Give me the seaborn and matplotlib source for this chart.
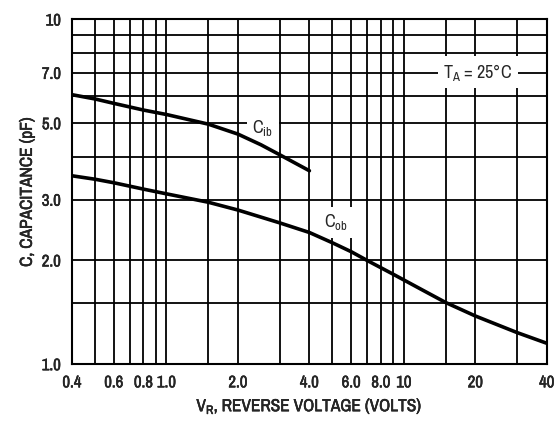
import matplotlib
matplotlib.use("Agg")
import pandas as pd
import seaborn as sns
import matplotlib.pyplot as plt
import matplotlib.patheffects as pe
from matplotlib import font_manager

# --- Datos ---
cib_v = [0.4, 0.5, 0.6, 0.8, 1.0, 1.5, 2.0, 2.5, 3.0, 4.0]
cib_c = [6.05, 5.88, 5.71, 5.46, 5.3, 4.97, 4.65, 4.33, 4.05, 3.64]

cob_v = [0.4, 0.5, 0.6, 0.8, 1.0, 1.5, 2.0, 3.0, 4.0, 5.0, 6.0, 7.0, 8.0,
         9.0, 10, 12, 15, 20, 30, 40]
cob_c = [3.52, 3.44, 3.36, 3.22, 3.12, 2.95, 2.80, 2.57, 2.41, 2.25, 2.12,
         2.0, 1.905, 1.825, 1.755, 1.64, 1.51, 1.38, 1.235, 1.15]

x_grid = [0.4, 0.5, 0.6, 0.7, 0.8, 0.9, 1.0, 1.5, 2.0, 3.0, 4.0, 5.0, 6.0,
          7.0, 8.0, 9.0, 10, 15, 20, 30, 40]
x_labels = {0.4: "0.4", 0.6: "0.6", 0.8: "0.8", 1.0: "1.0", 2.0: "2.0",
            4.0: "4.0", 6.0: "6.0", 8.0: "8.0", 10: "10", 20: "20", 40: "40"}
y_grid = [1.0, 1.5, 2.0, 3.0, 4.0, 5.0, 6.0, 7.0, 8.0, 9.0, 10]
y_labels = {1.0: "1.0", 2.0: "2.0", 3.0: "3.0", 5.0: "5.0", 7.0: "7.0", 10: "10"}

sns.set_style("white")
fonts = font_manager.fontManager.ttflist
names = {f.name for f in fonts}
# fuente estrecha si existe
narrow = [f.name for f in fonts if "Narrow" in f.name or "Condensed" in f.name]
fam = narrow[:1] + [f for f in ["Liberation Sans", "DejaVu Sans"] if f in names]
plt.rcParams["font.family"] = fam
plt.rcParams["mathtext.default"] = "regular"

# trazo para engrosar el texto
grueso = [pe.withStroke(linewidth=0.35, foreground="black")]

df_ib = pd.DataFrame({"V": cib_v, "C": cib_c})
df_ob = pd.DataFrame({"V": cob_v, "C": cob_c})

fig = plt.figure(figsize=(5.54, 4.23), dpi=100)
ax = fig.add_axes([0.130, 0.139, 0.857, 0.815])
ax.set_axisbelow(True)

sns.lineplot(data=df_ib, x="V", y="C", ax=ax, color="black", lw=2.6, zorder=3)
sns.lineplot(data=df_ob, x="V", y="C", ax=ax, color="black", lw=2.6, zorder=3)

ax.set_xscale("log")
ax.set_yscale("log")
ax.set_xlim(0.4, 40)
ax.set_ylim(1.0, 10)

ax.set_xticks(x_grid)
ax.set_xticklabels([x_labels.get(v, "") for v in x_grid])
ax.set_yticks(y_grid)
ax.set_yticklabels([y_labels.get(v, "") for v in y_grid])
ax.minorticks_off()
ax.tick_params(length=0, labelsize=12, pad=8)
for t in ax.get_xticklabels() + ax.get_yticklabels():
    t.set_path_effects(grueso)
ax.grid(True, color="black", lw=1.3)
for s in ax.spines.values():
    s.set_color("black")
    s.set_linewidth(1.5)

ax.set_xlabel(r"V$_R$, REVERSE VOLTAGE (VOLTS)", fontsize=12.5, labelpad=5,
              path_effects=grueso)
ax.set_ylabel("C, CAPACITANCE (pF)", fontsize=12.5, labelpad=5,
              path_effects=grueso)

box = dict(facecolor="white", edgecolor="none", pad=4)
ax.text(0.402, 0.685, r"C$_{ib}$", transform=ax.transAxes, fontsize=13,
        ha="center", va="center", bbox=box, zorder=2)
ax.text(0.556, 0.412, r"C$_{ob}$", transform=ax.transAxes, fontsize=13,
        ha="center", va="center", bbox=box, zorder=2)
ax.text(0.855, 0.847, r"T$_A$ = 25°C", transform=ax.transAxes, fontsize=13,
        ha="center", va="center", bbox=dict(facecolor="white", edgecolor="none", pad=4),
        zorder=2)

fig.savefig("out.png", dpi=100)
